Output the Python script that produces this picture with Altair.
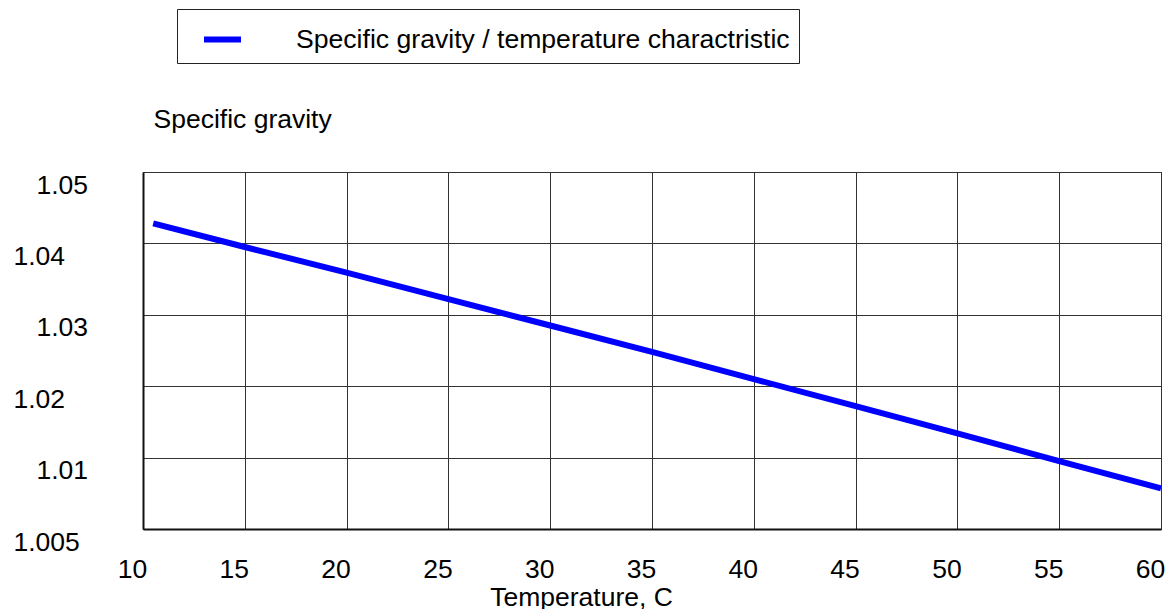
import altair as alt
import pandas as pd

temperature = [10.5, 15, 20, 25, 30, 35, 40, 45, 50, 55, 60]
specific_gravity = [1.0428, 1.0395, 1.0359, 1.0322, 1.0285, 1.0248, 1.0210, 1.0172, 1.0134, 1.0095, 1.0057]
series_name = "Specific gravity / temperature charactristic"
x_ticks = [10, 15, 20, 25, 30, 35, 40, 45, 50, 55, 60]
y_ticks = [1.00, 1.01, 1.02, 1.03, 1.04, 1.05]

df = pd.DataFrame({
    "t": temperature,
    "sg": specific_gravity,
    "series": [series_name] * len(temperature),
})

FONT = "Liberation Sans"
FS = 26.5

chart = alt.Chart(df).mark_line(strokeWidth=6, strokeCap="butt", clip=True).encode(
    x=alt.X(
        "t:Q",
        scale=alt.Scale(domain=[10, 60], nice=False, zero=False),
        axis=alt.Axis(
            values=x_ticks,
            title="Temperature, C",
            titleX=438,
            titleY=76,
            titleAlign="center",
            titleBaseline="alphabetic",
            labelOffset=-11,
            labelPadding=48,
            labelBaseline="alphabetic",
            labelAlign="center",
            labelOverlap=False,
            labelFlush=False,
            ticks=False,
            tickSize=0,
            grid=True,
        ),
    ),
    y=alt.Y(
        "sg:Q",
        scale=alt.Scale(domain=[1.0, 1.05], nice=False, zero=False),
        axis=alt.Axis(
            values=y_ticks,
            title="Specific gravity",
            titleAngle=0,
            titleX=10,
            titleY=-45,
            titleAlign="left",
            titleBaseline="alphabetic",
            labelExpr="datum.value < 1.005 ? '1.005' : format(datum.value, '.2f')",
            labelAlign="left",
            labelBaseline="alphabetic",
            labelOffset=21,
            labelPadding={"condition": {"test": "round(datum.value*100) % 2 == 1", "value": 107}, "value": 130},
            labelOverlap=False,
            labelFlush=False,
            ticks=False,
            tickSize=0,
            grid=True,
        ),
    ),
    color=alt.Color(
        "series:N",
        scale=alt.Scale(range=["#0000ff"]),
        title=None,
        legend=alt.Legend(
            orient="none",
            legendX=34,
            legendY=-163,
            strokeColor="#222222",
            fillColor="#ffffff",
            padding=9,
            symbolType="stroke",
            symbolSize=1369,
            symbolStrokeWidth=6,
            symbolStrokeColor="#0a3cc8",
            symbolOffset=15,
            labelOffset=52,
            labelFont=FONT,
            labelFontSize=26.6,
            labelColor="#000000",
            labelLimit=1000,
        ),
    ),
).properties(
    width=1018,
    height=357,
    autosize=alt.AutoSizeParams(type="none"),
    padding={"left": 135, "top": 164, "right": 4, "bottom": 80},
).configure_axis(
    labelFont=FONT,
    labelFontSize=FS,
    labelColor="#000000",
    titleFont=FONT,
    titleFontSize=FS,
    titleFontWeight="normal",
    titleColor="#000000",
    gridColor="#333333",
    gridWidth=1,
    gridOpacity=1,
    domainColor="#111111",
    domainWidth=2,
).configure_view(
    stroke="#333333",
    strokeWidth=1,
)

chart.save("out.html", embed_options={"renderer": "svg", "actions": False})
